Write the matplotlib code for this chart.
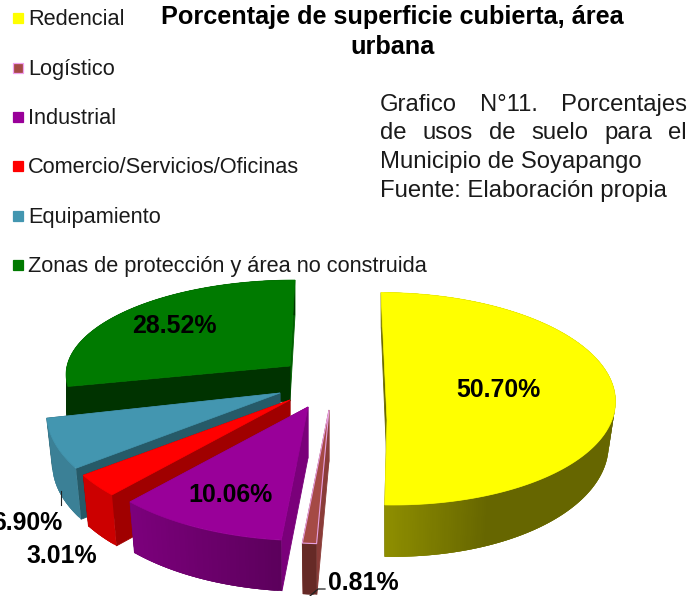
import numpy as np
import matplotlib
matplotlib.use("Agg")
import matplotlib.pyplot as plt
from matplotlib.patches import Polygon, Rectangle
from matplotlib.colors import to_rgb

plt.rcParams['font.family'] = ['Liberation Sans', 'DejaVu Sans']

# Data
categories = ["Redencial", "Logístico", "Industrial", "Comercio/Servicios/Oficinas",
              "Equipamiento", "Zonas de protección y área no construida"]
values = [50.70, 0.81, 10.06, 3.01, 6.90, 28.52]
value_labels = ["50.70%", "0.81%", "10.06%", "3.01%", "6.90%", "28.52%"]
title_lines = ["Porcentaje de superficie cubierta, área", "urbana"]
note_lines = ["Grafico N°11. Porcentajes", "de usos de suelo para el",
              "Municipio de Soyapango", "Fuente: Elaboración propia"]

# Colours
top_colors = ["#FFFF00", "#A54A45", "#990099", "#FF0000", "#4396B0", "#007A00"]
wall_left = ["#8F8F00", "#662A26", "#7C007C", "#CC0000", "#3B8096", "#003300"]
wall_right = ["#666600", "#662A26", "#5C005C", "#CC0000", "#3B8096", "#003300"]
cut_start = ["#6A6A00", "#8A3C38", "#7A007A", "#A00000", "#265A68", "#003300"]
cut_end = ["#6A6A00", "#8A3C38", "#7A007A", "#A00000", "#265A68", "#006000"]

# Layout (pixels): apex x, apex y, rx, ry, k, skew, depth, sx, sy
geom = [
    (387, 420, 225, 102, -0.20, -6, 45, 0.97, 1.08),
    (329, 410, 233, 110.5, 0.174, 0, 51, 0.975, 1.0),
    (308, 407, 233, 110.5, 0.174, 0, 51, 0.975, 1.0),
    (290, 400, 233, 110.5, 0.174, 0, 51, 0.975, 1.0),
    (280, 393, 230, 110.5, 0.174, 0, 51, 0.975, 1.0),
    (290, 366, 223, 92, 0.07, 5, 35, 1.0, 1.0),
]
draw_order = [5, 4, 3, 2, 1, 0]
label_pos = [(498, 397, 'center'), (328, 590, 'left'), (230, 502, 'center'),
             (97, 563, 'right'), (62, 530, 'right'), (174, 333, 'center')]
legend_y = [19, 69, 118, 167, 217, 266]

fig = plt.figure(figsize=(6.89, 5.96), dpi=100, facecolor='white')
ax = fig.add_axes([0, 0, 1, 1])
ax.set_xlim(0, 689)
ax.set_ylim(596, 0)
ax.axis('off')

edges = np.concatenate([[0], np.cumsum(values)]) * 3.6 / sum(values) * 100


def offsets(theta, g):
    _, _, rx, ry, k, skew, *_ = g
    t = np.radians(theta)
    u, v = np.sin(t), np.cos(t)
    w = 1 + k * v
    return rx * u / w + skew * v, -ry * v / w


def top_pt(theta, g):
    dx, dy = offsets(theta, g)
    return np.column_stack([g[0] + dx, g[1] + dy])


def bot_pt(theta, g):
    dx, dy = offsets(theta, g)
    return np.column_stack([g[0] + g[7] * dx, g[1] + g[6] + g[8] * dy])


def poly(pts, color, z, ec=None, lw=0.6):
    ax.add_patch(Polygon(pts, closed=True, facecolor=color,
                         edgecolor=ec or color, linewidth=lw, zorder=z))


z = 2
for i in draw_order:
    g = geom[i]
    a, b = edges[i], edges[i + 1]
    th = np.linspace(a, b, max(int((b - a) * 1.5), 6))
    apex_t = (g[0], g[1])
    apex_b = (g[0], g[1] + g[6])
    # cut walls
    t0, b0 = top_pt(np.array([a]), g)[0], bot_pt(np.array([a]), g)[0]
    t1, b1 = top_pt(np.array([b]), g)[0], bot_pt(np.array([b]), g)[0]
    poly([t1, b1, apex_b, apex_t], cut_end[i], z); z += 1
    poly([t0, b0, apex_b, apex_t], cut_start[i], z); z += 1
    # outer wall, as shaded strips that overlap so that no seams show
    tp, bp = top_pt(th, g), bot_pt(th, g)
    cl, cr = np.array(to_rgb(wall_left[i])), np.array(to_rgb(wall_right[i]))
    xs = tp[:, 0]
    span = max(xs.max() - xs.min(), 1)
    order = np.arange(len(th) - 1)
    for j in order:
        if i == 0:
            f = np.clip((xs[j] - xs[-1]) / 105, 0, 1)
        else:
            f = (xs[j] - xs.min()) / span
        col = tuple(cl + (cr - cl) * f)
        e = len(th) if j == order[0] else min(j + 3, len(th))
        ax.add_patch(Polygon(np.vstack([tp[j:e], bp[j:e][::-1]]), closed=True,
                             facecolor=col, edgecolor='none', zorder=z))
    z += 1
    # top face
    outline = np.vstack([[apex_t], tp])
    ec = "#E8A0E0" if i == 1 else None
    poly(outline, top_colors[i], z, ec=ec, lw=0.8 if i == 1 else 0.5); z += 1

# Leader lines
ax.plot([61, 61], [491, 505], color='#222222', lw=0.8, zorder=z)
ax.plot([325, 318, 310], [589, 589, 596], color='#222222', lw=0.9, zorder=z)
z += 1

# Value labels
for (x, y, ha), s in zip(label_pos, value_labels):
    ax.text(x, y, s, fontsize=17.9, fontweight='bold', ha=ha, va='baseline',
            color='black', zorder=z)

# Legend
for i, (name, y) in enumerate(zip(categories, legend_y)):
    ec = "#F0A0F0" if i == 1 else top_colors[i]
    ax.add_patch(Rectangle((12.5, y - 6.5), 10.5, 10.5, facecolor=top_colors[i],
                           edgecolor=ec, linewidth=0.9, zorder=z))
    ax.text(28, y + 6, name, fontsize=15.7, ha='left', va='baseline', color='#1a1a1a', zorder=z)

# Title
ax.text(392, 24, title_lines[0], fontsize=18.2, fontweight='bold', ha='center', va='baseline', color='black')
ax.text(392, 54, title_lines[1], fontsize=18.2, fontweight='bold', ha='center', va='baseline', color='black')

# Note (first two lines justified)
note_y = [111, 139, 168, 197]
x0, x1 = 380, 687
fig.canvas.draw()
rend = fig.canvas.get_renderer()
for li, (line, y) in enumerate(zip(note_lines, note_y)):
    if li < 2:
        words = line.split(' ')
        arts = [ax.text(0, y, w, fontsize=17.2, ha='left', va='baseline', color='#1a1a1a') for w in words]
        widths = [a.get_window_extent(rend).width for a in arts]
        gap = (x1 - x0 - sum(widths)) / (len(words) - 1)
        x = x0
        for a, w in zip(arts, widths):
            a.set_x(x)
            x += w + gap
    else:
        ax.text(x0, y, line, fontsize=17.2, ha='left', va='baseline', color='#1a1a1a')

fig.savefig("out.png", dpi=100, facecolor='white')
